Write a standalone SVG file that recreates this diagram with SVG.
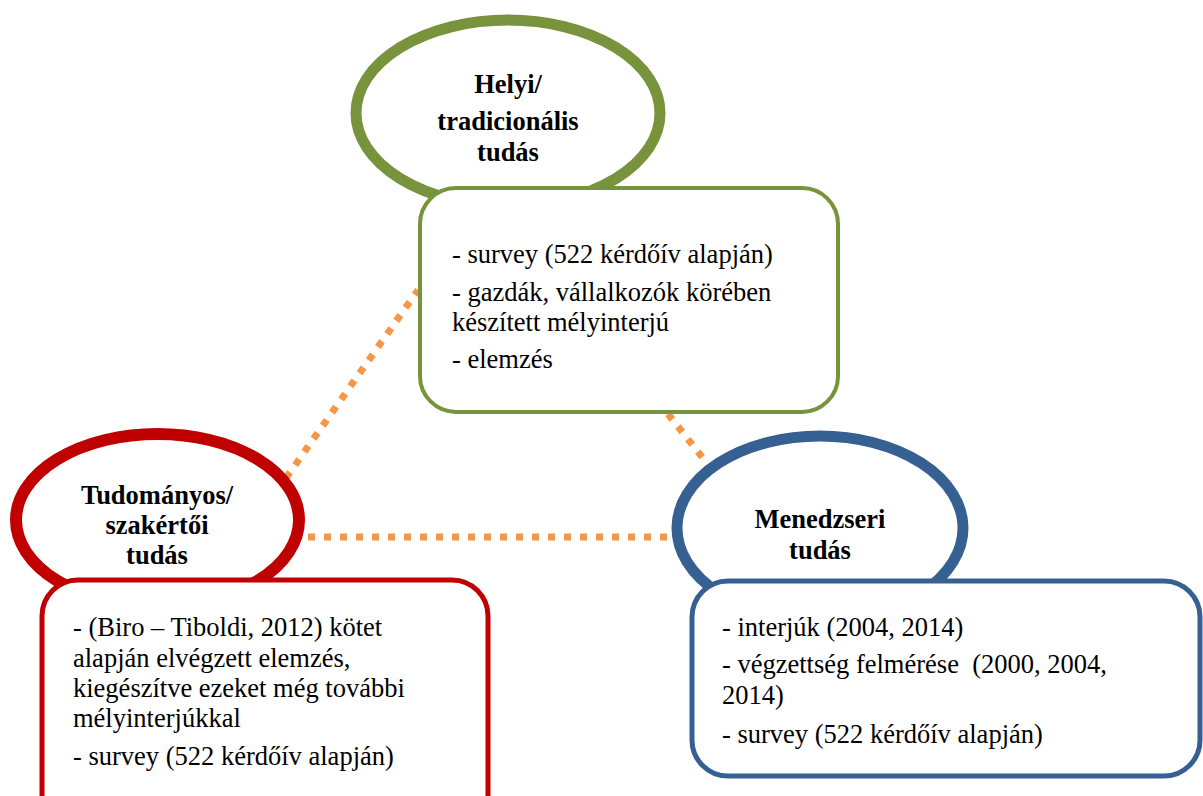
<svg xmlns="http://www.w3.org/2000/svg" width="1203" height="796" viewBox="0 0 1203 796">
<style>
text{font-family:"Liberation Serif","Times New Roman",serif;font-size:26.5px;fill:#000}
.b{font-weight:bold;text-anchor:middle}
.c{fill:none;stroke:#F79646;stroke-width:7;stroke-dasharray:7 9}
.el{fill:#fff}
.bx{fill:#fff}
</style>
<rect width="1203" height="796" fill="#fff"/>
<g id="connectors">
<path class="c" d="M308 537 L668 537"/>
<path class="c" d="M286 478 L418 290"/>
<path class="c" d="M668 414 L706 462"/>
</g>
<g id="helyi">
<ellipse class="el" cx="508" cy="113" rx="152" ry="93" stroke="#77933C" stroke-width="11"/>
<text class="b" x="508" y="93">Helyi/</text>
<text class="b" x="508" y="130">tradicionális</text>
<text class="b" x="508" y="161">tudás</text>
</g>
<g id="helyi-box">
<rect class="bx" x="420" y="188" width="418" height="224" rx="36" stroke="#77933C" stroke-width="4"/>
<text x="452" y="263">- survey (522 kérdőív alapján)</text>
<text x="452" y="301">- gazdák, vállalkozók körében</text>
<text x="452" y="331">készített mélyinterjú</text>
<text x="452" y="368">- elemzés</text>
</g>
<g id="tudomanyos">
<ellipse class="el" cx="157.5" cy="520" rx="141.5" ry="86" stroke="#C00000" stroke-width="12"/>
<text class="b" x="157" y="504">Tudományos/</text>
<text class="b" x="157" y="534">szakértői</text>
<text class="b" x="157" y="564">tudás</text>
</g>
<g id="tudomanyos-box">
<rect class="bx" x="42" y="580" width="446" height="250" rx="36" stroke="#C00000" stroke-width="5"/>
<text x="73" y="636">- (Biro – Tiboldi, 2012) kötet</text>
<text x="73" y="667">alapján elvégzett elemzés,</text>
<text x="73" y="697">kiegészítve ezeket még további</text>
<text x="73" y="727">mélyinterjúkkal</text>
<text x="73" y="765">- survey (522 kérdőív alapján)</text>
</g>
<g id="menedzseri">
<ellipse class="el" cx="820" cy="528" rx="143" ry="92" stroke="#376092" stroke-width="11"/>
<text class="b" x="820" y="528">Menedzseri</text>
<text class="b" x="820" y="559">tudás</text>
</g>
<g id="menedzseri-box">
<rect class="bx" x="692" y="581" width="508" height="195" rx="36" stroke="#376092" stroke-width="5"/>
<text x="722" y="636">- interjúk (2004, 2014)</text>
<text x="722" y="673" xml:space="preserve">- végzettség felmérése  (2000, 2004,</text>
<text x="722" y="704">2014)</text>
<text x="722" y="743">- survey (522 kérdőív alapján)</text>
</g>
</svg>
